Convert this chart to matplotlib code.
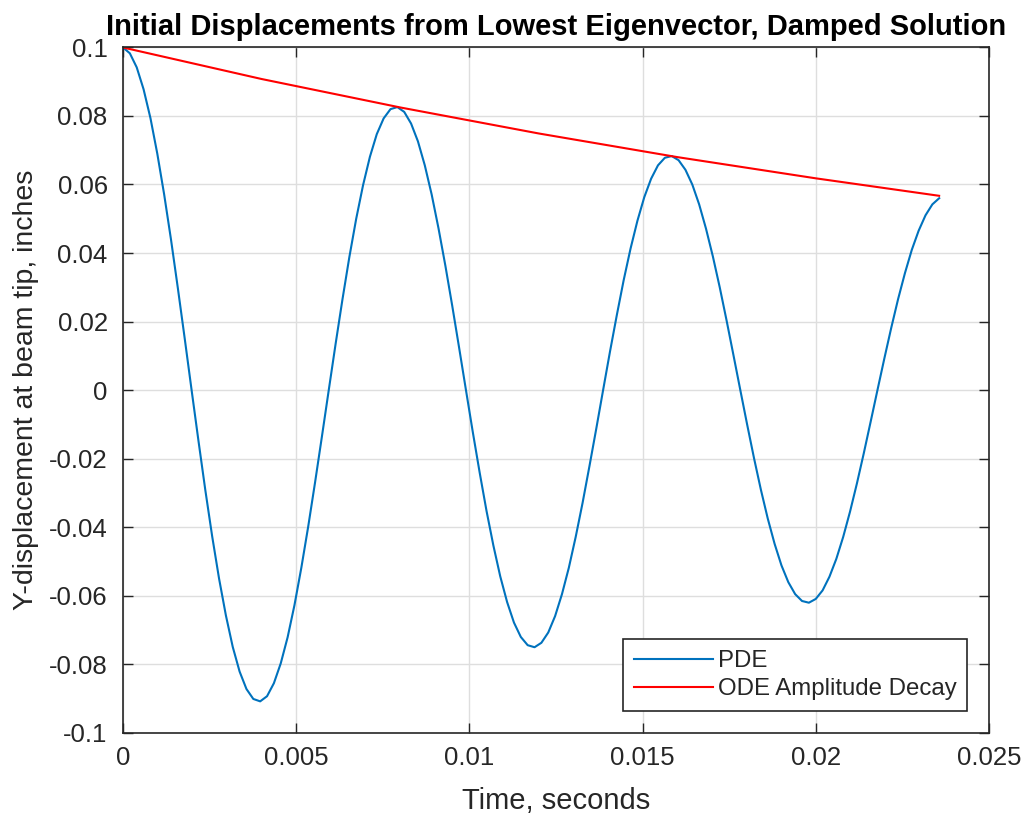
import numpy as np
import matplotlib
matplotlib.use("Agg")
import matplotlib.pyplot as plt

# PDE tip displacement at equal time steps
dt = 0.000198
pde_y = [
    0.1000, 0.0983, 0.0942, 0.0878, 0.0794, 0.0690, 0.0571, 0.0439, 0.0297, 0.0150,
    0.0000, -0.0148, -0.0292, -0.0427, -0.0550, -0.0658, -0.0750, -0.0822, -0.0873, -0.0902,
    -0.0909, -0.0894, -0.0856, -0.0798, -0.0722, -0.0628, -0.0519, -0.0399, -0.0270, -0.0136,
    0.0000, 0.0135, 0.0265, 0.0388, 0.0500, 0.0598, 0.0681, 0.0747, 0.0793, 0.0820,
    0.0826, 0.0812, 0.0778, 0.0726, 0.0656, 0.0571, 0.0472, 0.0363, 0.0246, 0.0124,
    0.0000, -0.0123, -0.0241, -0.0353, -0.0454, -0.0544, -0.0619, -0.0679, -0.0721, -0.0745,
    -0.0751, -0.0738, -0.0708, -0.0660, -0.0596, -0.0519, -0.0429, -0.0330, -0.0223, -0.0113,
    0.0000, 0.0112, 0.0219, 0.0321, 0.0413, 0.0494, 0.0563, 0.0617, 0.0656, 0.0678,
    0.0683, 0.0671, 0.0643, 0.0600, 0.0542, 0.0471, 0.0390, 0.0300, 0.0203, 0.0102,
    0.0000, -0.0101, -0.0199, -0.0291, -0.0375, -0.0449, -0.0512, -0.0561, -0.0596, -0.0616,
    -0.0621, -0.0610, -0.0585, -0.0545, -0.0493, -0.0429, -0.0355, -0.0273, -0.0185, -0.0093,
    0.0000, 0.0092, 0.0181, 0.0265, 0.0341, 0.0409, 0.0465, 0.0510, 0.0542, 0.0560,
]
pde_t = np.arange(len(pde_y)) * dt

# ODE amplitude envelope
ode_t = [0.0, 0.004, 0.008, 0.012, 0.016, 0.020, 0.02356]
ode_y = [0.1000, 0.0908, 0.0825, 0.0749, 0.0680, 0.0618, 0.0567]

xticks = [0, 0.005, 0.01, 0.015, 0.02, 0.025]
xticklabels = ["0", "0.005", "0.01", "0.015", "0.02", "0.025"]
yticks = [-0.1, -0.08, -0.06, -0.04, -0.02, 0, 0.02, 0.04, 0.06, 0.08, 0.1]
yticklabels = ["-0.1", "-0.08", "-0.06", "-0.04", "-0.02", "0",
               "0.02", "0.04", "0.06", "0.08", "0.1"]

plt.rcParams['font.family'] = ['Liberation Sans', 'DejaVu Sans']
dark = '#262626'

fig = plt.figure(figsize=(10.25, 8.16), dpi=100)
ax = fig.add_axes([0.12, 0.1023, 0.8449, 0.8395])

ax.plot(pde_t, pde_y, color='#0072BD', lw=1.5, label='PDE')
ax.plot(ode_t, ode_y, color='#FF0000', lw=1.5, label='ODE Amplitude Decay')

ax.set_xlim(0, 0.025)
ax.set_ylim(-0.1, 0.1)
ax.set_xticks(xticks)
ax.set_xticklabels(xticklabels)
ax.set_yticks(yticks)
ax.set_yticklabels(yticklabels)

ax.grid(True, color='#dedede', lw=1.0)
ax.set_axisbelow(True)
ax.tick_params(direction='in', length=7, width=1.0, colors=dark,
               labelsize=18.5, top=True, right=True)
ax.tick_params(axis='x', pad=10)
ax.tick_params(axis='y', pad=11)
for s in ax.spines.values():
    s.set_color(dark)
    s.set_linewidth(1.2)

ax.set_xlabel('Time, seconds', fontsize=21, color=dark, labelpad=12)
ax.set_ylabel('Y-displacement at beam tip, inches', fontsize=20.5, color=dark, labelpad=7)
ax.set_title('Initial Displacements from Lowest Eigenvector, Damped Solution',
             fontsize=21, fontweight='bold', color='black', pad=9)

leg = ax.legend(loc='lower right', fontsize=17.3, frameon=True, fancybox=False,
                edgecolor=dark, framealpha=1, handlelength=3.3, handletextpad=0.2,
                borderaxespad=0.9, labelspacing=0.25, borderpad=0.45)
leg.get_frame().set_linewidth(1.2)
for txt in leg.get_texts():
    txt.set_color(dark)

fig.savefig('out.png', dpi=100)
